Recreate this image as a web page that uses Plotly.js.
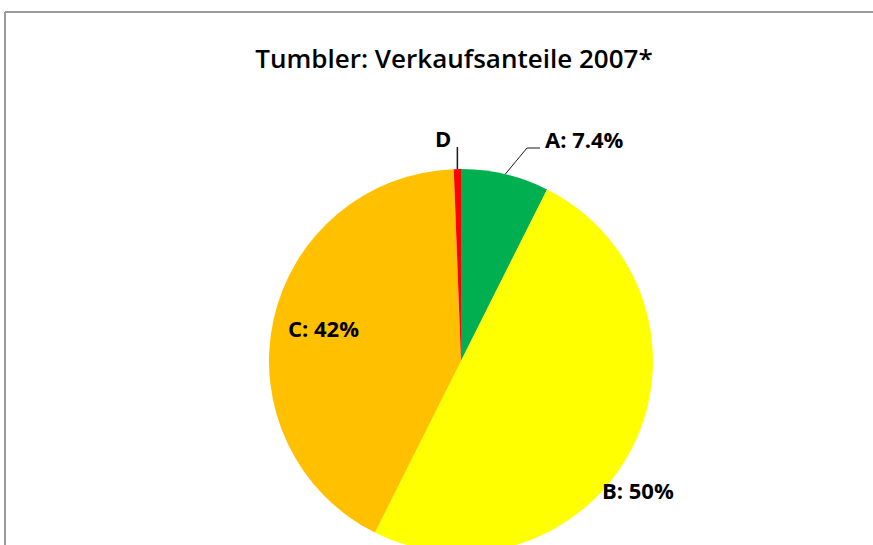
<!DOCTYPE html>
<html>
<head>
<meta charset="utf-8">
<script src="https://cdn.plot.ly/plotly-3.0.1.min.js"></script>
<style>
  html, body { margin: 0; padding: 0; overflow: hidden; background: #fff; }
  #chart { width: 873px; height: 600px; }
</style>
</head>
<body>
<div id="chart"></div>
<script>
const chartTitle = "Tumbler: Verkaufsanteile 2007*";
const labels = ["A", "B", "C", "D"];
const values = [7.4, 50, 42, 0.6];
const showValue = [true, true, true, false];
const colors = ["#00B050", "#FFFF00", "#FFC000", "#FF0000"];

const texts = labels.map((l, i) => showValue[i] ? l + ": " + values[i] + "%" : l);

// layout geometry (pixels)
const W = 873, H = 600;
const cx = 461, cy = 361, r = 192;
// label centres in pixels (layout only)
const labelPos = [[584, 139], [638, 490], [323, 328], [443, 138]];
const FONT = "'Open Sans', Lato, sans-serif";

const px = x => x / W;
const py = y => 1 - y / H;

// mid-angle of each slice (clockwise from 12 o'clock), from the data
const total = values.reduce((a, b) => a + b, 0);
let acc = 0;
const midAngles = values.map(v => { const m = (acc + v / 2) / total * 2 * Math.PI; acc += v; return m; });
const edgePt = i => [cx + r * Math.sin(midAngles[i]), cy - r * Math.cos(midAngles[i])];

const trace = {
  type: "pie",
  labels: labels,
  values: values,
  textinfo: "none",
  sort: false,
  direction: "clockwise",
  rotation: 0,
  marker: { colors: colors, line: { width: 0 } },
  hoverinfo: "none",
  domain: { x: [px(cx - r), px(cx + r)], y: [py(cy + r), py(cy - r)] }
};

const annotations = texts.map((t, i) => ({
  text: t,
  xref: "paper", yref: "paper",
  x: px(labelPos[i][0]), y: py(labelPos[i][1]),
  xanchor: "center", yanchor: "middle",
  showarrow: false,
  font: { family: FONT, size: 22, color: "#000", weight: "bold" }
}));

// leader lines for A and D
const eA = edgePt(0), eD = edgePt(3);
const leaderA = { type: "path", xref: "paper", yref: "paper",
  path: `M ${px(eA[0])} ${py(eA[1])} L ${px(527)} ${py(148)} L ${px(540)} ${py(148)}`,
  line: { color: "#1a1a1a", width: 1 } };
const leaderD = { type: "line", xref: "paper", yref: "paper",
  x0: px(eD[0]), y0: py(eD[1]), x1: px(eD[0]), y1: py(147),
  line: { color: "#1a1a1a", width: 1.5 } };

const layout = {
  width: W,
  height: H,
  margin: { l: 0, r: 0, t: 0, b: 0 },
  paper_bgcolor: "#fff",
  showlegend: false,
  title: {
    text: chartTitle,
    font: { family: FONT, size: 26, color: "#000", weight: 600 },
    x: px(454), xanchor: "center",
    y: py(59), yanchor: "middle",
    xref: "paper", yref: "paper"
  },
  annotations: annotations,
  shapes: [
    leaderA, leaderD,
    { type: "line", xref: "paper", yref: "paper", x0: px(5), x1: 1, y0: py(12), y1: py(12), line: { color: "#9a9a9a", width: 2 } },
    { type: "line", xref: "paper", yref: "paper", x0: px(5), x1: px(5), y0: py(12), y1: 0, line: { color: "#9a9a9a", width: 2 } }
  ]
};

Plotly.newPlot("chart", [trace], layout, { displayModeBar: false, staticPlot: true });
</script>
</body>
</html>
